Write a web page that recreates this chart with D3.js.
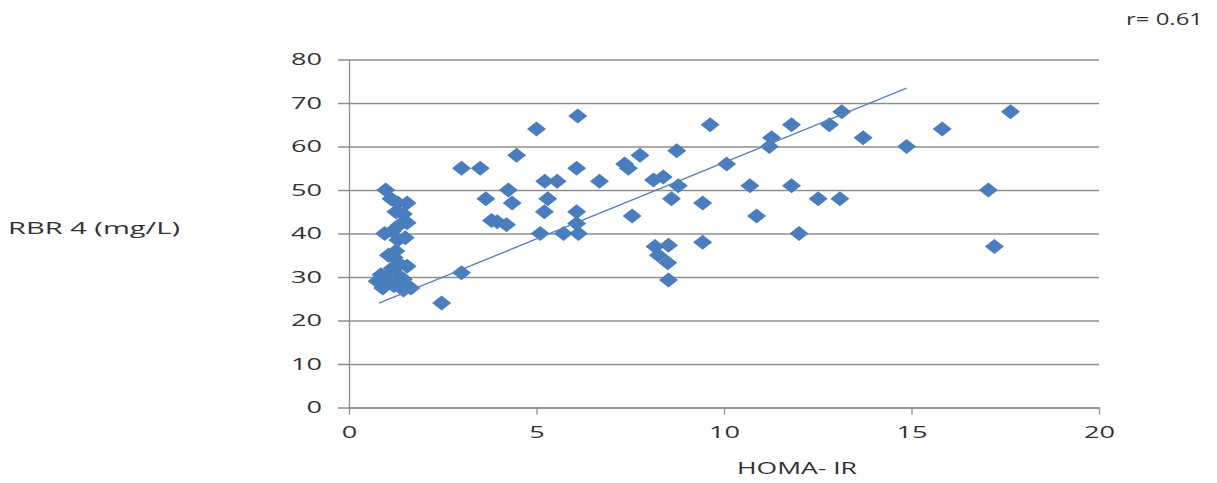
<!DOCTYPE html>
<html><head><meta charset="utf-8">
<script src="https://cdn.jsdelivr.net/npm/d3@7/dist/d3.min.js"></script>
<style>body{margin:0;background:#fff;}svg{display:block;}</style>
</head><body><svg id="c" width="1217" height="483"></svg>
<script>
const homaIR = [0.98,1.12,1.3,1.55,1.25,1.45,1.55,1.35,0.95,1.15,1.3,1.5,1.05,1.2,1.35,1.55,1.15,0.85,1.3,0.75,1.0,1.45,0.9,1.2,1.45,1.65,1.1,1.25,
 2.47,3.0,3.0,3.5,3.65,3.8,3.95,4.2,4.25,4.35,4.47,5.0,5.1,5.22,5.55,5.3,5.21,5.72,6.1,6.07,6.68,6.07,6.12,6.07,7.35,7.45,7.76,7.55,8.74,8.12,8.38,8.78,8.6,9.43,9.63,9.43,8.16,8.52,8.25,8.5,8.52,10.07,11.27,11.21,11.8,12.81,13.14,13.71,10.69,11.8,12.51,13.09,10.87,12.0,14.87,15.82,17.64,17.05,17.21];
const rbr4 = [50,48,47,47,45,44.5,42.5,42,40,40.5,38.5,39,35,34.5,33,32.5,32,30.5,30.5,29,29,29.5,27.5,28,27,27.5,31,36,
 24,31,55,55,48,43,42.7,42,50,47,58,64,40,52,52,48,45,40,67,55,52,45,40,42.3,56,55,58,44,59,52.3,53,51,48,47,65,38,37,37.3,35,33.3,29.3,56,62,60,65,65,68,62,51,51,48,48,44,40,60,64,68,50,37];
const trendX = [0.8, 14.87];
const trendY = [24, 73.4];
const xTicks = [0,5,10,15,20];
const yTicks = [0,10,20,30,40,50,60,70,80];
const xTitle = "HOMA- IR";
const yTitle = "RBR 4 (mg/L)";
const rLabel = "r= 0.61";

const svg = d3.select("#c");
const x = d3.scaleLinear().domain([0,20]).range([349,1099]);
const y = d3.scaleLinear().domain([0,80]).range([407.5,59.5]);
const gridCol = "#8e8e8e", txtCol = "#333", font = "'Open Sans', sans-serif";
const digitW = 15.5;

const yAx = d3.axisLeft(y).tickValues(yTicks).tickSize(-(1099-349)).tickSizeOuter(0).tickPadding(27).tickFormat(d3.format("d"));
const gy = svg.append("g").attr("transform","translate(349,0)").call(yAx);
gy.select(".domain").attr("stroke", gridCol).attr("stroke-width",1.3);
gy.selectAll(".tick line").attr("stroke", gridCol).attr("stroke-width",1.3).attr("x1",-11);
gy.selectAll(".tick text").attr("fill", txtCol).style("font-family",font).style("font-size","16px")
  .attr("textLength", d => String(d).length*digitW).attr("lengthAdjust","spacingAndGlyphs");

const xAx = d3.axisBottom(x).tickValues(xTicks).tickSize(7).tickSizeOuter(0).tickPadding(12).tickFormat(d3.format("d"));
const gx = svg.append("g").attr("transform","translate(0,407.5)").call(xAx);
gx.select(".domain").attr("stroke", gridCol).attr("stroke-width",1.3);
gx.selectAll(".tick line").attr("stroke", gridCol).attr("stroke-width",1.3);
gx.selectAll(".tick text").attr("fill", txtCol).style("font-family",font).style("font-size","16px")
  .attr("textLength", d => String(d).length*digitW).attr("lengthAdjust","spacingAndGlyphs");

const pts = homaIR.map((v,i)=>[v, rbr4[i]]);
const hw = 9.5, hh = 7.5;
svg.append("g").selectAll("path").data(pts).join("path")
  .attr("d", d => { const cx=x(d[0]), cy=y(d[1]); return `M${cx},${cy-hh}L${cx+hw},${cy}L${cx},${cy+hh}L${cx-hw},${cy}Z`; })
  .attr("fill","#4a7dbd");

svg.append("line").attr("x1",x(trendX[0])).attr("y1",y(trendY[0])).attr("x2",x(trendX[1])).attr("y2",y(trendY[1]))
  .attr("stroke","#5a82b8").attr("stroke-width",1.4);

svg.append("text").attr("x",797).attr("y",474).attr("text-anchor","middle").attr("fill",txtCol)
  .style("font-family",font).style("font-size","17px").attr("textLength",120).attr("lengthAdjust","spacingAndGlyphs").text(xTitle);
svg.append("text").attr("x",8).attr("y",234).attr("fill",txtCol)
  .style("font-family",font).style("font-size","17px").attr("textLength",172).attr("lengthAdjust","spacingAndGlyphs").text(yTitle);
svg.append("text").attr("x",1126).attr("y",25).attr("fill",txtCol)
  .style("font-family",font).style("font-size","17px").attr("textLength",77).attr("lengthAdjust","spacingAndGlyphs").text(rLabel);
</script></body></html>
